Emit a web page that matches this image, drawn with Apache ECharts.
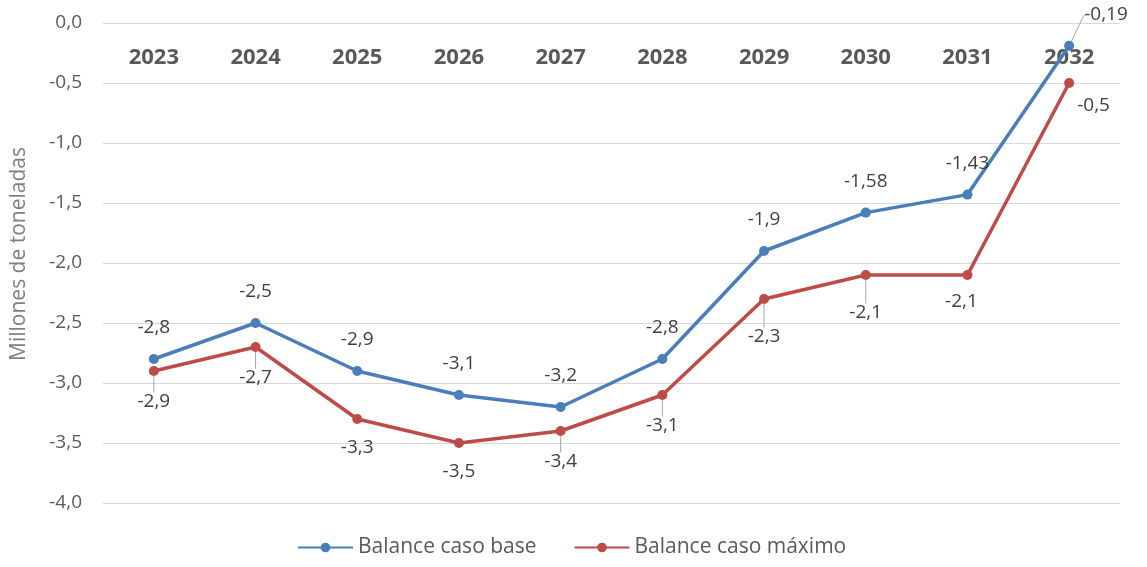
<!DOCTYPE html>
<html>
<head>
<meta charset="utf-8">
<script src="https://cdn.jsdelivr.net/npm/echarts@6/dist/echarts.min.js"></script>
<style>
  html, body { margin: 0; padding: 0; background: #ffffff; }
  #chart { width: 1147px; height: 567px; }
</style>
</head>
<body>
<div id="chart"></div>
<script>
// Years on the category axis
const years = ['2023', '2024', '2025', '2026', '2027', '2028', '2029', '2030', '2031', '2032'];
// Balance, millions of tonnes
const baseCase = [-2.8, -2.5, -2.9, -3.1, -3.2, -2.8, -1.9, -1.58, -1.43, -0.19];
const maxCase = [-2.9, -2.7, -3.3, -3.5, -3.4, -3.1, -2.3, -2.1, -2.1, -0.5];
const seriesNames = ['Balance caso base', 'Balance caso máximo'];
const axisTitle = 'Millones de toneladas';

const FONT = '"Open Sans", "Noto Sans", sans-serif';
const BLUE = '#4A7EBB';
const RED = '#BE4B48';
const LABEL_COLOR = '#404040';
const GUIDE_COLOR = '#a6a6a6';

const fmt = v => String(v).replace('.', ',');

// Points whose label hangs on a thin guide line
const blueGuided = [9];
const redGuided = [0, 1, 4, 5, 6, 7];

function withGuides(values, guided) {
  return values.map((v, i) => ({
    value: v,
    labelLine: {
      show: guided.indexOf(i) >= 0,
      lineStyle: { color: GUIDE_COLOR, width: 1 }
    }
  }));
}

function centreOf(rect) {
  return [rect.x + rect.width / 2, rect.y + rect.height / 2];
}

function placeLabels(params) {
  const [cx, cy] = centreOf(params.rect);
  const last = years.length - 1;
  if (params.seriesIndex === 0) {
    if (params.dataIndex === last) {
      // callout to the upper right with an elbow guide
      const ly = cy - 31;
      return {
        x: cx + 15, y: ly, align: 'left', verticalAlign: 'middle',
        labelLinePoints: [[cx, cy - 5], [cx, ly - 2], [cx + 11, ly - 2]]
      };
    }
    return { x: cx, y: cy - 31, align: 'center', verticalAlign: 'middle' };
  }
  if (params.dataIndex === last) {
    return { x: cx + 8, y: cy + 23, align: 'left', verticalAlign: 'middle' };
  }
  let dy = 31;
  let dx = 0;
  if (params.dataIndex === 6 || params.dataIndex === 7) dy = 38;
  if (params.dataIndex === 2 || params.dataIndex === 3) dy = 29;
  if (params.dataIndex === 8) { dy = 27; dx = -6; }
  const out = { x: cx + dx, y: cy + dy, align: 'center', verticalAlign: 'middle' };
  if (redGuided.indexOf(params.dataIndex) >= 0) {
    const slant = params.dataIndex === 6 ? 5 : (params.dataIndex === 1 ? -2 : 0);
    out.labelLinePoints = [[cx, cy + 2], [cx + slant, cy + dy - 14]];
  }
  return out;
}

const option = {
  animation: false,
  backgroundColor: '#ffffff',
  grid: { left: 103, right: 27, top: 23, bottom: 64, containLabel: false },
  xAxis: {
    type: 'category',
    data: years,
    position: 'top',
    boundaryGap: true,
    axisLine: { show: false },
    axisTick: { show: false },
    axisLabel: {
      inside: true,
      margin: 24,
      color: '#595959',
      fontFamily: FONT,
      fontWeight: 'bold',
      fontSize: 22
    },
    splitLine: { show: false }
  },
  yAxis: {
    type: 'value',
    min: -4,
    max: 0,
    interval: 0.5,
    name: axisTitle,
    nameLocation: 'middle',
    nameGap: 73,
    nameTextStyle: { color: '#7f7f7f', fontFamily: FONT, fontSize: 21, padding: [0, 0, 0, 18] },
    axisLine: { show: false },
    axisTick: { show: false },
    axisLabel: {
      margin: 21,
      color: '#595959',
      fontFamily: FONT,
      fontSize: 19,
      formatter: v => v.toFixed(1).replace('.', ',')
    },
    splitLine: { lineStyle: { color: '#d9d9d9', width: 1 } }
  },
  legend: {
    bottom: 4,
    left: 292,
    itemGap: 37,
    itemWidth: 55,
    itemHeight: 12,
    textStyle: { color: '#595959', fontFamily: FONT, fontSize: 21 },
    data: seriesNames
  },
  series: [
    {
      name: seriesNames[0],
      type: 'line',
      data: withGuides(baseCase, blueGuided),
      color: BLUE,
      symbol: 'circle',
      symbolSize: 10,
      lineStyle: { width: 3.5, color: BLUE },
      itemStyle: { color: BLUE },
      label: {
        show: true,
        position: 'top',
        color: LABEL_COLOR,
        fontFamily: FONT,
        fontSize: 19,
        formatter: p => fmt(p.value)
      },
      labelLayout: placeLabels,
      z: 3
    },
    {
      name: seriesNames[1],
      type: 'line',
      data: withGuides(maxCase, redGuided),
      color: RED,
      symbol: 'circle',
      symbolSize: 10,
      lineStyle: { width: 3.5, color: RED },
      itemStyle: { color: RED },
      label: {
        show: true,
        position: 'bottom',
        color: LABEL_COLOR,
        fontFamily: FONT,
        fontSize: 19,
        formatter: p => fmt(p.value)
      },
      labelLayout: placeLabels,
      z: 2
    }
  ]
};

const chart = echarts.init(document.getElementById('chart'), null, { renderer: 'canvas' });
chart.setOption(option);
// relayout once the guide lines exist so the explicit guide points are used
chart.resize();
</script>
</body>
</html>
